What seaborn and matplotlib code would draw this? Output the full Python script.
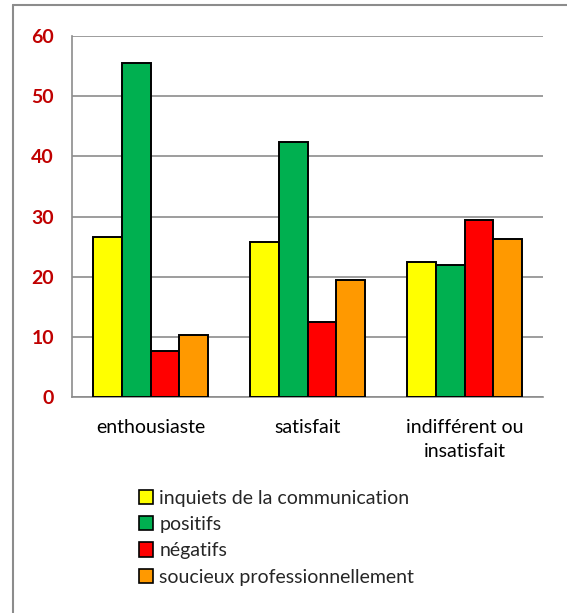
import matplotlib
matplotlib.use("Agg")
import matplotlib.pyplot as plt
from matplotlib.lines import Line2D
from matplotlib.patches import Patch
import seaborn as sns
import pandas as pd

# Données
categories = ["enthousiaste", "satisfait", "indifférent ou\ninsatisfait"]
groupes = ["inquiets de la communication", "positifs", "négatifs",
           "soucieux professionnellement"]
inquiets = [26.6, 25.8, 22.5]
positifs = [55.5, 42.4, 21.9]
negatifs = [7.7, 12.4, 29.5]
soucieux = [10.3, 19.4, 26.2]
couleurs = ["#FFFF00", "#00B050", "#FF0000", "#FF9900"]
yticks = [0, 10, 20, 30, 40, 50, 60]

series = [inquiets, positifs, negatifs, soucieux]
df = pd.DataFrame([
    {"categorie": c, "groupe": g, "valeur": v}
    for g, vals in zip(groupes, series)
    for c, v in zip(categories, vals)
])

sns.set_style("white")
plt.rcParams["font.family"] = ["Lato", "DejaVu Sans"]

fig = plt.figure(figsize=(5.67, 6.13), dpi=100)
ax = fig.add_axes([72 / 567, 1 - 397 / 613, (543 - 72) / 567, (397 - 36) / 613])

sns.barplot(data=df, x="categorie", y="valeur", hue="groupe",
            hue_order=groupes, order=categories, palette=couleurs,
            saturation=1, width=0.73, edgecolor="black", linewidth=1.4,
            legend=False, ax=ax, zorder=3)

ax.set_xlim(-0.5, 2.5)
ax.set_ylim(0, 60)
ax.set_yticks(yticks)
ax.set_yticklabels([str(t) for t in yticks], color="#C00000",
                   fontweight="bold", fontsize=14)
ax.yaxis.grid(True, color="#8c8c8c", linewidth=1.2, zorder=0)
ax.set_axisbelow(True)
ax.tick_params(axis="y", length=6, width=1.2, color="#8c8c8c", pad=7)

ax.set_xticks(range(len(categories)))
ax.set_xticklabels(categories, fontsize=14, color="black", linespacing=1.5)
ax.tick_params(axis="x", which="major", length=0, pad=16)
ax.set_xticks([-0.5, 0.5, 1.5, 2.5], minor=True)
ax.tick_params(axis="x", which="minor", length=6, width=1.2, color="#8c8c8c")

ax.set_xlabel("")
ax.set_ylabel("")
for side in ["top", "right"]:
    ax.spines[side].set_visible(False)
for side in ["left", "bottom"]:
    ax.spines[side].set_color("#8c8c8c")
    ax.spines[side].set_linewidth(1.2)

# Légende
handles = [Patch(facecolor=c, edgecolor="black", linewidth=1.2) for c in couleurs]
fig.legend(handles, groupes, loc="upper left",
           bbox_to_anchor=(129 / 567, 1 - 480 / 613), frameon=False,
           fontsize=14, handlelength=0.75, handleheight=0.75,
           handletextpad=0.3, labelspacing=0.48, borderpad=0)

# Cadre du graphique
frame = "#8c8c8c"
fig.add_artist(Line2D([13 / 567, 13 / 567], [0, 1 - 5 / 613],
                      transform=fig.transFigure, color=frame, linewidth=1.5))
fig.add_artist(Line2D([13 / 567, 1], [1 - 5 / 613, 1 - 5 / 613],
                      transform=fig.transFigure, color=frame, linewidth=1.5))

fig.savefig("out.png", dpi=100)
